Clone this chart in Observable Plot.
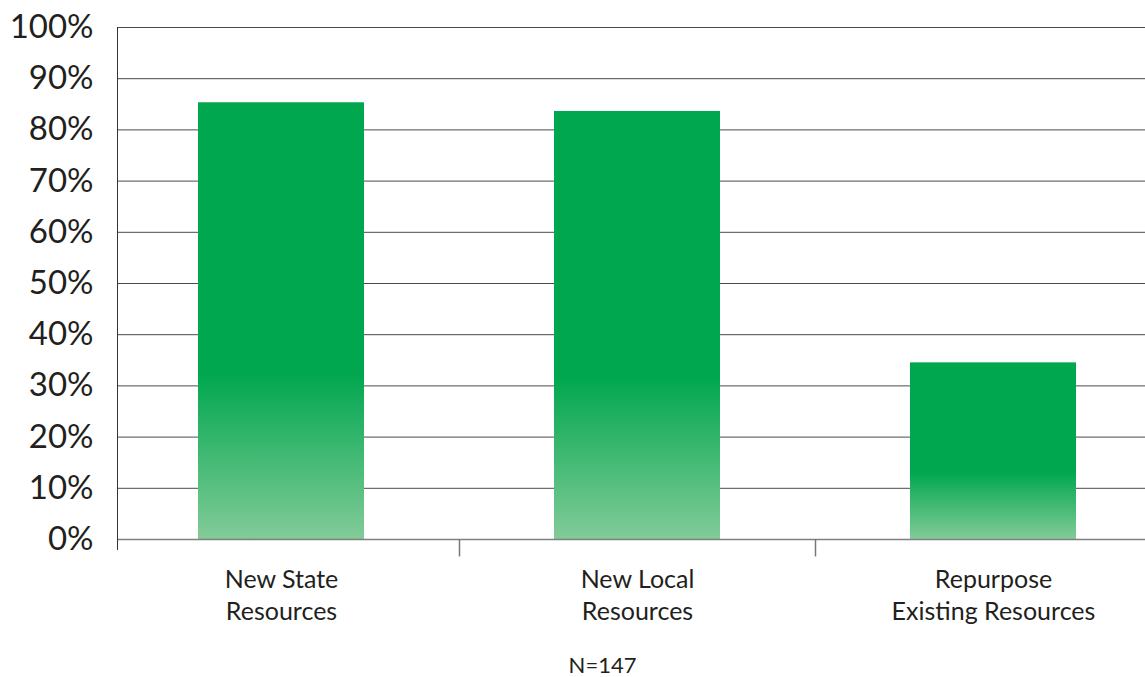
<!DOCTYPE html>
<html><head><meta charset="utf-8">
<script src="https://cdn.jsdelivr.net/npm/d3@7"></script>
<script src="https://cdn.jsdelivr.net/npm/@observablehq/plot@0.6"></script>
<style>
body{margin:0;background:#fff;font-family:Lato,sans-serif;overflow:hidden;}
#caption{width:1145px;height:27px;text-align:center;padding:3px 0 0 60px;box-sizing:border-box;font-size:22px;color:#231f20;line-height:24px;}
</style></head><body><div id="chart"></div><div id="caption"></div>
<script>
const categories = ["New State Resources", "New Local Resources", "Repurpose Existing Resources"];
const labels = ["New State\nResources", "New Local\nResources", "Repurpose\nExisting Resources"];
const values = [85.3, 83.6, 34.5];
const yTicks = [0, 10, 20, 30, 40, 50, 60, 70, 80, 90, 100];
const caption = "N=147";

const data = categories.map((c, i) => ({category: c, value: values[i]}));
const W = 1145, H = 650, mL = 117, mR = 0, mT = 27, mB = 111, inL = -14, inR = -26;
const step = (W - mL - mR - inL - inR) / categories.length;

const defs = () => {
  const d = d3.create("svg:defs");
  const g = d.append("linearGradient").attr("id", "barGrad").attr("x1", 0).attr("y1", 0).attr("x2", 0).attr("y2", 1);
  g.append("stop").attr("offset", "0").attr("stop-color", "#00a74f");
  g.append("stop").attr("offset", "0.62").attr("stop-color", "#00a74f");
  g.append("stop").attr("offset", "1").attr("stop-color", "#82cb98");
  return d.node();
};

const chart = Plot.plot({
  width: W, height: H, marginLeft: mL, marginRight: mR, marginTop: mT, marginBottom: mB,
  style: {fontFamily: "Lato, sans-serif", color: "#231f20", background: "#fff", overflow: "visible"},
  x: {type: "band", domain: categories, paddingInner: 0.534, paddingOuter: 0.267, insetLeft: inL, insetRight: inR, label: null},
  y: {domain: [0, 100], label: null},
  marks: [
    defs,
    Plot.ruleY(yTicks.filter(d => d > 0), {stroke: "#4a4a4a", strokeWidth: 1}),
    Plot.barY(data, {x: "category", y: "value", fill: "url(#barGrad)"}),
    Plot.ruleY([0], {stroke: "#808080", strokeWidth: 1.5}),
    Plot.frame({anchor: "left", stroke: "#333", insetBottom: -10}),
    Plot.ruleX(categories.slice(0, -1), {x: d => d, y1: 0, y2: -3.4, dx: step / 2, stroke: "#777", strokeWidth: 1.5}),
    Plot.axisY({ticks: yTicks, tickSize: 0, tickPadding: 24, fontSize: 33, label: null, tickFormat: d => d + "%"}),
    Plot.axisX({tickSize: 0, tickPadding: 25, fontSize: 25, lineHeight: 1.3, label: null, tickFormat: d => labels[categories.indexOf(d)]})
  ]
});
document.getElementById("chart").appendChild(chart);
document.getElementById("caption").textContent = caption;
</script>
</body></html>
